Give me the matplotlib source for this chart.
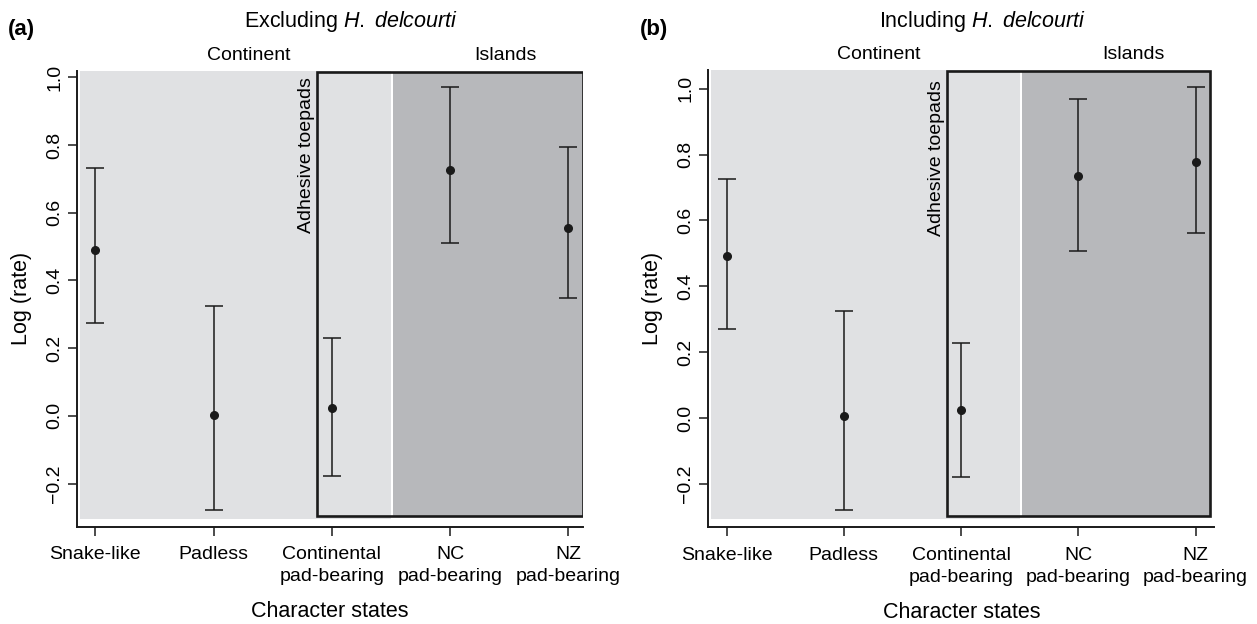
import matplotlib
matplotlib.use('Agg')
import matplotlib.pyplot as plt
from matplotlib.patches import Rectangle
from matplotlib.transforms import blended_transform_factory

plt.rcParams['font.family'] = ['Liberation Sans', 'DejaVu Sans']
plt.rcParams['mathtext.fontset'] = 'custom'
plt.rcParams['mathtext.rm'] = 'Liberation Sans'
plt.rcParams['mathtext.it'] = 'Liberation Sans:italic'

# character states (x positions 1..5)
states = ['Snake-like', 'Padless', 'Continental\npad-bearing',
          'NC\npad-bearing', 'NZ\npad-bearing']
pos = [1, 2, 3, 4, 5]

# (a) excluding H. delcourti
a_mean = [0.490, 0.004, 0.022, 0.727, 0.556]
a_low = [0.273, -0.277, -0.176, 0.511, 0.348]
a_high = [0.731, 0.326, 0.230, 0.971, 0.794]

# (b) including H. delcourti
b_mean = [0.493, 0.006, 0.026, 0.734, 0.778]
b_low = [0.270, -0.279, -0.177, 0.508, 0.562]
b_high = [0.727, 0.326, 0.229, 0.968, 1.004]

yticks = [-0.2, 0.0, 0.2, 0.4, 0.6, 0.8, 1.0]
ytick_labels = ['\u22120.2', '0.0', '0.2', '0.4', '0.6', '0.8', '1.0']

light = '#e0e1e3'
dark = '#b7b8bb'
ink = '#1a1a1a'
fs = 14

fig = plt.figure(figsize=(12.57, 6.24), dpi=100)
ax1 = fig.add_axes([0.0615, 0.156, 0.402, 0.731])
ax2 = fig.add_axes([0.5635, 0.155, 0.4026, 0.7325])


def panel(ax, mean, low, high, xlim, ylim, bg_y, box_y, title, tag, tag_x, adh_y):
    ax.set_xlim(*xlim)
    ax.set_ylim(*ylim)
    # background regions
    ax.add_patch(Rectangle((0.87, bg_y[0]), 3.50 - 0.87, bg_y[1] - bg_y[0],
                           facecolor=light, edgecolor='none', zorder=0))
    ax.add_patch(Rectangle((3.515, box_y[0]), 5.125 - 3.515, box_y[1] - box_y[0],
                           facecolor=dark, edgecolor='none', zorder=0))
    ax.add_patch(Rectangle((2.876, box_y[0]), 5.125 - 2.876, box_y[1] - box_y[0],
                           facecolor='none', edgecolor=ink, linewidth=1.9, zorder=1))
    err = [[m - l for m, l in zip(mean, low)], [h - m for m, h in zip(mean, high)]]
    ax.errorbar(pos, mean, yerr=err, fmt='o', color=ink, markersize=5.5,
                elinewidth=1.1, capsize=6.5, capthick=1.1, zorder=3)

    for s in ['top', 'right']:
        ax.spines[s].set_visible(False)
    for s in ['left', 'bottom']:
        ax.spines[s].set_linewidth(1.4)
        ax.spines[s].set_color(ink)
    ax.set_xticks(pos)
    ax.set_xticklabels(states, fontsize=fs, va='top', linespacing=1.4)
    ax.set_yticks(yticks)
    ax.set_yticklabels(ytick_labels, fontsize=fs, rotation=90, va='center')
    ax.tick_params(axis='both', length=6.5, width=1.1, color=ink)
    ax.tick_params(axis='x', pad=7.5)
    ax.tick_params(axis='y', pad=3.5)

    tr = blended_transform_factory(ax.transData, ax.transAxes)
    ax.text(2.3, 1.034, 'Continent', transform=tr, ha='center', va='center', fontsize=fs)
    ax.text(4.47, 1.034, 'Islands', transform=tr, ha='center', va='center', fontsize=fs)
    ax.text(2.86, adh_y, 'Adhesive toepads', rotation=90, ha='right', va='top', fontsize=fs)
    ax.text(0.542, 1.107, title, transform=ax.transAxes, ha='center', va='center', fontsize=15.5)
    ax.text(0.5, -0.187, 'Character states', transform=ax.transAxes,
            ha='center', va='center', fontsize=15.5)
    ax.text(-0.111, 0.5, 'Log (rate)', transform=ax.transAxes, rotation=90,
            ha='center', va='center', fontsize=15.5)
    fig.text(tag_x, 1 - 30 / 624, tag, ha='left', va='center', fontsize=16, fontweight='bold')


panel(ax1, a_mean, a_low, a_high, (0.847, 5.12), (-0.327, 1.020),
      (-0.304, 1.022), (-0.297, 1.015), r'Excluding $\it{H.}$ $\it{delcourti}$', '(a)', 8 / 1257, 1.0)
panel(ax2, b_mean, b_low, b_high, (0.844, 5.16), (-0.331, 1.056),
      (-0.305, 1.060), (-0.298, 1.054), r'Including $\it{H.}$ $\it{delcourti}$', '(b)', 640 / 1257, 1.025)

fig.savefig('out.png', dpi=100)
